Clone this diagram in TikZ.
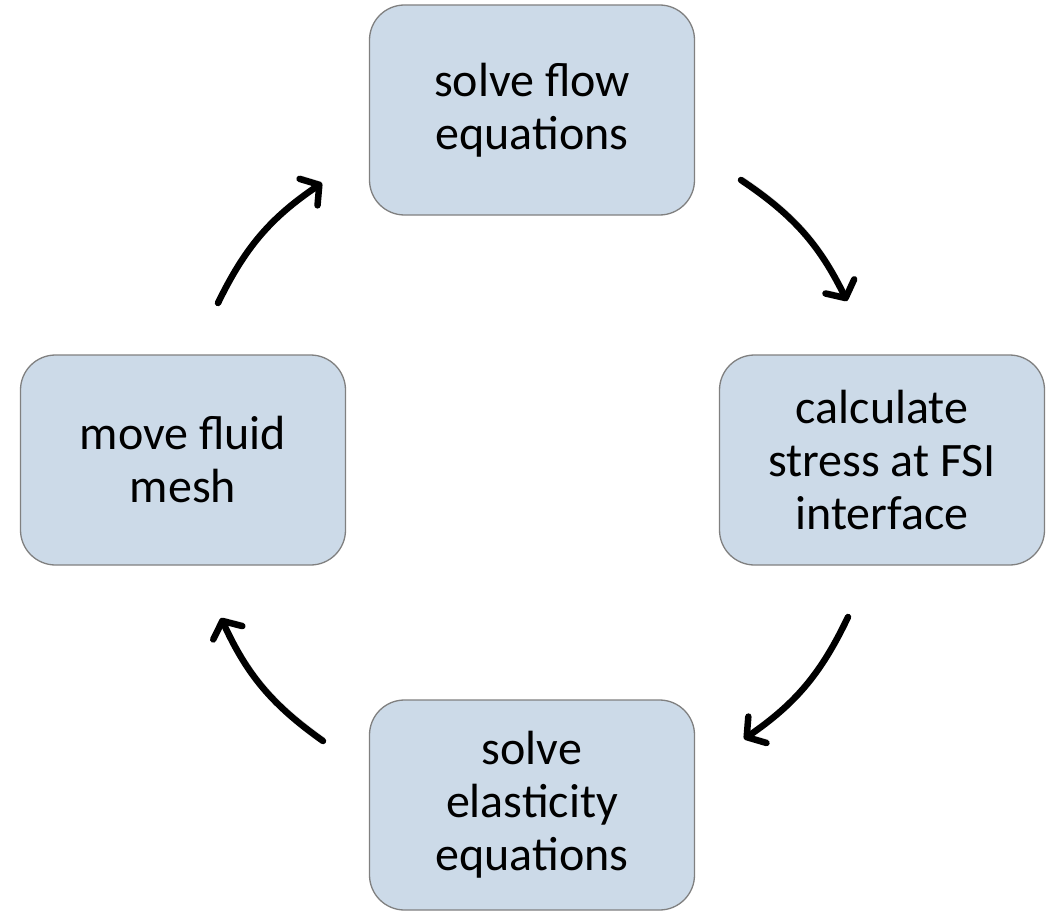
\documentclass[tikz,border=0pt]{standalone}
\usepackage{fontspec}
\setmainfont{Carlito}
\usetikzlibrary{arrows.meta}

\begin{document}
\begin{tikzpicture}[
  x=1pt, y=-1pt,
  box/.style={draw=black!50, line width=1.3, fill=boxblue, rounded corners=35,
    minimum width=325, minimum height=210, align=center,
    font=\fontsize{48}{53}\selectfont},
  cyc/.style={line width=6.5, line cap=round, bend left=15,
    -{Straight Barb[length=13, width=32, line cap=round, line join=round]},
    preaction={draw=black!30, opacity=0.5, transform canvas={shift={(2,-3)}}}},
]
\definecolor{boxblue}{HTML}{CCDAE8}
\useasboundingbox (0,0) rectangle (1051,912);

\node[box] (flow)    at (532,110) {solve flow\\equations};
\node[box] (stress)  at (882,460) {calculate\\stress at FSI\\interface};
\node[box] (elastic) at (532,805) {solve\\elasticity\\equations};
\node[box] (mesh)    at (183,460) {move fluid\\mesh};

% 箭头两端不碰方框，单独给坐标
\coordinate (a1) at (218,303); \coordinate (b1) at (322,183);
\coordinate (a2) at (741,180); \coordinate (b2) at (847,301);
\coordinate (a3) at (848,617); \coordinate (b3) at (744,739);
\coordinate (a4) at (323,741); \coordinate (b4) at (221,618);

\draw[cyc] (a1) to (b1);
\draw[cyc] (a2) to (b2);
\draw[cyc] (a3) to (b3);
\draw[cyc] (a4) to (b4);
\end{tikzpicture}
\end{document}
